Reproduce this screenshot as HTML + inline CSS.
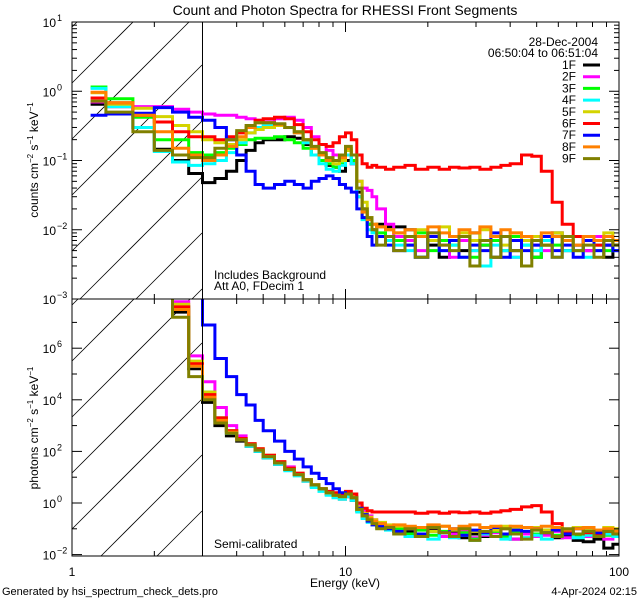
<!DOCTYPE html>
<html><head><meta charset="utf-8"><style>
html,body{margin:0;padding:0;background:#fff;width:640px;height:600px;overflow:hidden;}
svg{display:block;font-family:"Liberation Sans",sans-serif;overflow:hidden;}
text{fill:#000;}
</style></head><body>
<svg id="chart" width="640" height="600" viewBox="0 0 640 600">
<defs>
<clipPath id="clipTop"><rect x="72" y="22" width="547" height="277"/></clipPath>
<clipPath id="clipBot"><rect x="72" y="299" width="547" height="257"/></clipPath>
</defs>
<text x="345" y="15" font-size="14" text-anchor="middle">Count and Photon Spectra for RHESSI Front Segments</text>
<g id="hatch"></g>
<g id="series"></g>
<g id="axes"></g>
<text transform="translate(38,160) rotate(-90)" font-size="12" text-anchor="middle">counts cm<tspan dy="-5" font-size="8">−2</tspan><tspan dy="5"> s</tspan><tspan dy="-5" font-size="8">−1</tspan><tspan dy="5"> keV</tspan><tspan dy="-5" font-size="8">−1</tspan></text>
<text transform="translate(38,428) rotate(-90)" font-size="12" text-anchor="middle">photons cm<tspan dy="-5" font-size="8">−2</tspan><tspan dy="5"> s</tspan><tspan dy="-5" font-size="8">−1</tspan><tspan dy="5"> keV</tspan><tspan dy="-5" font-size="8">−1</tspan></text>
<text x="598" y="46" font-size="12" text-anchor="end">28-Dec-2004</text>
<text x="598" y="57" font-size="12" text-anchor="end">06:50:04 to 06:51:04</text>
<g id="legend"></g>
<text x="214" y="279" font-size="12">Includes Background</text>
<text x="214" y="290" font-size="12">Att A0, FDecim 1</text>
<text x="214" y="548" font-size="12">Semi-calibrated</text>
<text x="345" y="587" font-size="12" text-anchor="middle">Energy (keV)</text>
<text x="2" y="595" font-size="11">Generated by hsi_spectrum_check_dets.pro</text>
<text x="637" y="595" font-size="11" text-anchor="end">4-Apr-2024 02:15</text>
</svg>
<script>
const binEdges = [1.17,1.33,1.67,2,2.33,2.67,3,3.33,3.67,4,4.33,4.67,5,5.5,6,6.5,7,7.5,8,8.5,9,9.5,10,10.5,11,11.5,12,12.5,13,14,15,16.5,18,20,22,24,26,28.5,31,34,37,40,44,48,52,57,62,68,74,81,88,95,100];
const detectors = ["1F","2F","3F","4F","5F","6F","7F","8F","9F"];
const detColors = ["#000000","#ff00ff","#00ff00","#00ffff","#d4d400","#ff0000","#0000ff","#ff8000","#808000"];
const xTickLabels = ["1","10","100"];
const topYExponents = [-3,-2,-1,0,1];
const botYExponents = [-2,0,2,4,6,8];
// counts cm^-2 s^-1 keV^-1
const counts1F = [0.65,0.6,0.3,0.145,0.1,0.065,0.048,0.055,0.07,0.1,0.14,0.18,0.2,0.2,0.22,0.21,0.17,0.12,0.1,0.085,0.08,0.07,0.1,0.09,0.035,0.02,0.012,0.01,0.012,0.011,0.011,0.01,0.008,0.006,0.004,0.007,0.005,0.009,0.006,0.004,0.008,0.005,0.007,0.004,0.006,0.009,0.005,0.006,0.005,0.007,0.004,0.006];
const counts2F = [0.7,0.6,0.6,0.6,0.55,0.5,0.47,0.45,0.45,0.42,0.4,0.38,0.36,0.4,0.42,0.38,0.3,0.22,0.17,0.14,0.12,0.1,0.12,0.09,0.05,0.04,0.037,0.03,0.02,0.012,0.008,0.007,0.005,0.009,0.006,0.004,0.007,0.005,0.006,0.008,0.005,0.004,0.007,0.006,0.005,0.004,0.007,0.006,0.005,0.008,0.006,0.005];
const counts3F = [1.15,0.78,0.42,0.2,0.2,0.13,0.12,0.13,0.15,0.17,0.2,0.21,0.21,0.22,0.2,0.18,0.15,0.12,0.1,0.09,0.08,0.09,0.14,0.1,0.03,0.015,0.012,0.01,0.009,0.008,0.007,0.006,0.009,0.005,0.007,0.006,0.008,0.004,0.006,0.007,0.005,0.008,0.006,0.004,0.007,0.006,0.008,0.005,0.007,0.006,0.005,0.007];
const counts4F = [1.1,0.6,0.3,0.135,0.095,0.085,0.09,0.1,0.13,0.18,0.25,0.3,0.33,0.33,0.3,0.25,0.18,0.12,0.09,0.075,0.07,0.085,0.12,0.09,0.03,0.014,0.01,0.009,0.008,0.007,0.006,0.005,0.004,0.007,0.005,0.006,0.004,0.005,0.003,0.006,0.005,0.004,0.006,0.005,0.007,0.004,0.005,0.006,0.004,0.005,0.006,0.005];
const counts5F = [0.95,0.65,0.57,0.43,0.32,0.26,0.2,0.18,0.17,0.2,0.25,0.28,0.3,0.32,0.3,0.26,0.2,0.15,0.12,0.1,0.09,0.1,0.14,0.12,0.05,0.025,0.015,0.012,0.011,0.01,0.009,0.008,0.01,0.007,0.011,0.008,0.009,0.007,0.01,0.008,0.006,0.009,0.007,0.008,0.006,0.009,0.007,0.006,0.008,0.007,0.009,0.007];
const counts6F = [0.8,0.68,0.45,0.36,0.26,0.22,0.22,0.2,0.22,0.25,0.3,0.38,0.4,0.42,0.4,0.33,0.26,0.2,0.17,0.16,0.18,0.22,0.25,0.2,0.12,0.09,0.08,0.085,0.08,0.075,0.08,0.085,0.075,0.08,0.075,0.08,0.078,0.08,0.075,0.08,0.085,0.09,0.12,0.115,0.07,0.025,0.012,0.008,0.007,0.006,0.006,0.007];
const counts7F = [0.45,0.47,0.48,0.58,0.5,0.42,0.38,0.3,0.2,0.12,0.07,0.045,0.04,0.045,0.05,0.045,0.04,0.05,0.055,0.06,0.055,0.045,0.04,0.035,0.02,0.015,0.008,0.006,0.008,0.006,0.005,0.006,0.004,0.008,0.005,0.007,0.004,0.006,0.005,0.009,0.004,0.007,0.005,0.006,0.008,0.005,0.006,0.004,0.007,0.005,0.006,0.005];
const counts8F = [0.97,0.68,0.45,0.26,0.15,0.12,0.1,0.12,0.16,0.22,0.3,0.35,0.35,0.33,0.3,0.25,0.2,0.15,0.12,0.1,0.1,0.11,0.15,0.12,0.04,0.018,0.014,0.012,0.011,0.01,0.009,0.01,0.008,0.011,0.009,0.008,0.01,0.009,0.011,0.008,0.01,0.009,0.008,0.007,0.009,0.008,0.007,0.006,0.008,0.007,0.008,0.007];
const counts9F = [0.72,0.5,0.26,0.14,0.12,0.11,0.11,0.15,0.2,0.27,0.32,0.35,0.35,0.34,0.3,0.26,0.2,0.16,0.13,0.11,0.1,0.12,0.16,0.12,0.04,0.02,0.015,0.01,0.006,0.008,0.005,0.008,0.004,0.009,0.006,0.005,0.008,0.003,0.007,0.004,0.008,0.005,0.003,0.007,0.006,0.004,0.008,0.005,0.006,0.004,0.007,0.006];
// photons: log10(photons cm^-2 s^-1 keV^-1)
const photLog1F = [9.5,9.3,9,8.6,7.4,5.2,3.9,3.0,2.6,2.4,2.2,2.0,1.75,1.5,1.3,1.1,0.85,0.65,0.5,0.35,0.25,0.15,0.25,0.1,-0.3,-0.5,-0.7,-0.75,-0.8,-0.9,-1.0,-1.1,-1.2,-1.05,-1.3,-1.15,-1.35,-1.2,-1.3,-1.1,-1.25,-1.4,-1.2,-1.3,-1.15,-1.35,-1.3,-1.45,-1.5,-1.4,-1.75,-1.6];
const photLog2F = [9.6,9.4,9.1,8.8,7.8,5.7,4.7,3.7,3.0,2.6,2.3,2.05,1.8,1.6,1.4,1.15,0.9,0.7,0.55,0.4,0.3,0.2,0.25,0.15,-0.1,-0.3,-0.5,-0.65,-0.8,-0.95,-1.1,-1.0,-1.25,-1.1,-1.3,-1.2,-1.1,-1.35,-1.25,-1.15,-1.3,-1.4,-1.2,-1.3,-1.25,-1.1,-1.35,-1.2,-1.3,-1.25,-1.4,-1.3];
const photLog3F = [9.6,9.4,9,8.7,7.6,5.4,4.3,3.3,2.8,2.5,2.25,2.05,1.8,1.55,1.3,1.1,0.9,0.7,0.55,0.4,0.3,0.25,0.35,0.2,-0.3,-0.55,-0.65,-0.75,-0.85,-0.95,-1.0,-1.2,-1.05,-1.25,-1.1,-1.3,-1.15,-1.4,-1.2,-1.1,-1.3,-1.15,-1.35,-1.2,-1.05,-1.25,-1.15,-1.3,-1.2,-1.1,-1.25,-1.2];
const photLog4F = [9.6,9.3,9,8.6,7.5,5.3,4.2,3.2,2.7,2.45,2.2,2.0,1.75,1.5,1.25,1.05,0.85,0.6,0.45,0.3,0.2,0.15,0.25,0.1,-0.35,-0.6,-0.75,-0.85,-0.95,-1.05,-1.1,-1.3,-1.2,-1.4,-1.15,-1.35,-1.25,-1.45,-1.2,-1.3,-1.4,-1.2,-1.35,-1.25,-1.4,-1.3,-1.2,-1.35,-1.25,-1.3,-1.2,-1.3];
const photLog5F = [9.6,9.4,9.1,8.8,7.7,5.5,4.3,3.3,2.8,2.5,2.3,2.1,1.85,1.6,1.35,1.15,0.9,0.7,0.55,0.4,0.3,0.25,0.35,0.25,-0.15,-0.4,-0.55,-0.65,-0.75,-0.85,-0.9,-1.0,-0.95,-1.1,-0.9,-1.05,-1.0,-1.1,-0.95,-1.05,-0.9,-1.0,-1.1,-0.95,-1.05,-1.0,-1.1,-0.95,-1.0,-1.05,-0.95,-1.0];
const photLog6F = [9.6,9.4,9,8.7,7.6,5.4,4.2,3.3,2.8,2.5,2.3,2.1,1.85,1.6,1.35,1.15,0.9,0.7,0.55,0.45,0.4,0.35,0.45,0.35,0.0,-0.2,-0.3,-0.35,-0.35,-0.35,-0.35,-0.35,-0.4,-0.35,-0.4,-0.35,-0.38,-0.35,-0.4,-0.35,-0.3,-0.25,-0.15,-0.1,-0.35,-0.8,-1.1,-1.2,-1.15,-1.2,-1.1,-1.15];
const photLog7F = [9.5,9.3,9,8.9,8.5,8.1,6.9,5.6,4.9,4.2,3.8,3.2,2.8,2.4,2.0,1.7,1.4,1.15,0.95,0.75,0.55,0.4,0.35,0.2,-0.2,-0.45,-0.7,-0.85,-0.9,-1.0,-1.1,-1.0,-1.2,-0.95,-1.15,-1.0,-1.25,-1.05,-1.15,-0.95,-1.2,-1.05,-1.1,-1.0,-1.15,-1.05,-1.2,-1.0,-1.1,-1.15,-1.05,-1.1];
const photLog8F = [9.6,9.4,9,8.7,7.5,5.3,4.1,3.2,2.75,2.45,2.25,2.05,1.8,1.55,1.3,1.1,0.9,0.7,0.55,0.4,0.3,0.25,0.35,0.2,-0.25,-0.5,-0.6,-0.7,-0.8,-0.9,-0.85,-0.9,-0.95,-0.85,-0.9,-1.0,-0.9,-0.85,-0.95,-0.9,-1.0,-0.9,-0.95,-1.0,-0.9,-0.95,-1.05,-1.0,-0.95,-1.05,-1.0,-1.1];
const photLog9F = [9.5,9.3,9,8.5,7.2,4.9,4.0,3.1,2.7,2.45,2.25,2.05,1.8,1.55,1.3,1.1,0.9,0.7,0.55,0.4,0.3,0.25,0.35,0.2,-0.25,-0.5,-0.65,-0.8,-1.0,-0.95,-1.2,-1.0,-1.3,-0.95,-1.15,-1.3,-1.0,-1.45,-1.1,-1.3,-1.0,-1.2,-1.4,-1.05,-1.15,-1.3,-1.0,-1.2,-1.1,-1.3,-1.1,-1.2];

const countSeries = [counts1F,counts2F,counts3F,counts4F,counts5F,counts6F,counts7F,counts8F,counts9F];
const photSeries = [photLog1F,photLog2F,photLog3F,photLog4F,photLog5F,photLog6F,photLog7F,photLog8F,photLog9F];

const NS = "http://www.w3.org/2000/svg";
const X0 = 72, X1 = 619, TOP0 = 22, TOP1 = 299, BOT1 = 556, XH = 202;
function xScale(e){ return X0 + (Math.log10(e) / 2) * (X1 - X0); }
function yTop(v){ return TOP0 + (1 - Math.log10(v)) / 4 * (TOP1 - TOP0); }
function yBotLog(l){ return 503 - 25.8 * l; }
function mk(tag, attrs, parent){ const el = document.createElementNS(NS, tag); for (const k in attrs) el.setAttribute(k, attrs[k]); parent.appendChild(el); return el; }

const hatch = document.getElementById('hatch');
function hatchLine(y0, top, bottom){
  const t0 = Math.max(0, y0 - bottom), t1 = Math.min(XH - X0, y0 - top);
  if (t1 <= t0) return;
  const l = mk('line', {x1: X0 + t0, y1: y0 - t0, x2: X0 + t1, y2: y0 - t1, stroke: '#000', 'stroke-width': 0.8}, hatch);
  
  
}
for (let k = -6; k < 10; k++) {
  hatchLine(83 + 56 * k, TOP0, TOP1);
  hatchLine(361 + 56 * k, TOP1, BOT1);
}

function stepPath(vals, yf, ymin, ymax){
  let d = '';
  for (let i = 0; i < vals.length; i++) {
    const xa = xScale(binEdges[i]), xb = xScale(binEdges[i+1]);
    const y = Math.max(ymin, Math.min(ymax, yf(vals[i])));
    d += (i === 0 ? 'M' : 'L') + xa.toFixed(1) + ',' + y.toFixed(1) + 'L' + xb.toFixed(1) + ',' + y.toFixed(1);
  }
  return d;
}
const gs = document.getElementById('series');
const gTop = mk('g', {'clip-path':'url(#clipTop)'}, gs);
const gBot = mk('g', {'clip-path':'url(#clipBot)'}, gs);
for (let s = 0; s < detectors.length; s++) {
  const p1 = mk('path', {d: stepPath(countSeries[s], yTop, TOP0 - 5, TOP1 + 5), fill: 'none', stroke: detColors[s], 'stroke-width': 3}, gTop);
  
  
  const p2 = mk('path', {d: stepPath(photSeries[s], yBotLog, TOP1 - 5, BOT1 + 5), fill: 'none', stroke: detColors[s], 'stroke-width': 3}, gBot);
  
  
}

const ax = document.getElementById('axes');
function line(x1,y1,x2,y2,w){ return mk('line', {x1:x1,y1:y1,x2:x2,y2:y2,stroke:'#000','stroke-width':w||1}, ax); }
const frameTop = mk('rect', {x: X0, y: TOP0, width: X1-X0, height: TOP1-TOP0, fill: 'none', stroke: '#000', 'stroke-width': 1}, ax);


const frameBot = mk('rect', {x: X0, y: TOP1, width: X1-X0, height: BOT1-TOP1, fill: 'none', stroke: '#000', 'stroke-width': 1}, ax);


const v3 = line(xScale(3), TOP0, xScale(3), BOT1, 1);


for (let dec = 0; dec < 2; dec++) {
  for (let m = 1; m <= 9; m++) {
    const e = m * Math.pow(10, dec); const x = xScale(e); const len = m === 1 ? 10 : 5;
    [[TOP0,1],[TOP1,-1],[TOP1,1],[BOT1,-1]].forEach(([y,dir]) => line(x, y, x, y + dir*len));
  }
}
line(X1, TOP0, X1, TOP0+10); line(X1, BOT1, X1, BOT1-10);
xTickLabels.forEach((lab, i) => {
  const t = mk('text', {x: xScale(Math.pow(10, i)), y: 576, 'font-size': 12, 'text-anchor': 'middle'}, ax);
  t.textContent = lab;
  
  
});
for (let d = -3; d <= 1; d++) {
  const y = yTop(Math.pow(10, d));
  line(X0, y, X0+10, y); line(X1, y, X1-10, y);
  if (d < 1) for (let m = 2; m <= 9; m++) { const ym = yTop(m*Math.pow(10,d)); line(X0, ym, X0+5, ym); line(X1, ym, X1-5, ym); }
}
topYExponents.forEach(ex => {
  const y = yTop(Math.pow(10, ex));
  const t = mk('text', {x: 56, y: y + 5, 'font-size': 12, 'text-anchor': 'end'}, ax);
  t.textContent = '10';
  
  
  const sup = mk('text', {x: 57, y: y - 1, 'font-size': 9}, ax);
  sup.textContent = ex < 0 ? '−' + (-ex) : String(ex);
  
  
});
for (let d = -2; d <= 7; d++) { const y = yBotLog(d); const len = d % 2 === 0 ? 10 : 5; line(X0, y, X0+len, y); line(X1, y, X1-len, y); }
botYExponents.forEach(ex => {
  const y = yBotLog(ex); if (y < TOP1) return;
  const t = mk('text', {x: 56, y: y + 5, 'font-size': 12, 'text-anchor': 'end'}, ax);
  t.textContent = '10';
  
  
  const sup = mk('text', {x: 57, y: y - 1, 'font-size': 9}, ax);
  sup.textContent = ex < 0 ? '−' + (-ex) : String(ex);
  
  
});
const lg = document.getElementById('legend');
detectors.forEach((d, i) => {
  const y = 65 + 11.7 * i;
  const g = mk('g', {}, lg);
  
  
  const t = mk('text', {x: 576, y: y + 4, 'font-size': 12, 'text-anchor': 'end'}, g);
  t.textContent = d;
  mk('line', {x1: 583, y1: y, x2: 600, y2: y, stroke: detColors[i], 'stroke-width': 3}, g);
});
</script>
</body></html>
